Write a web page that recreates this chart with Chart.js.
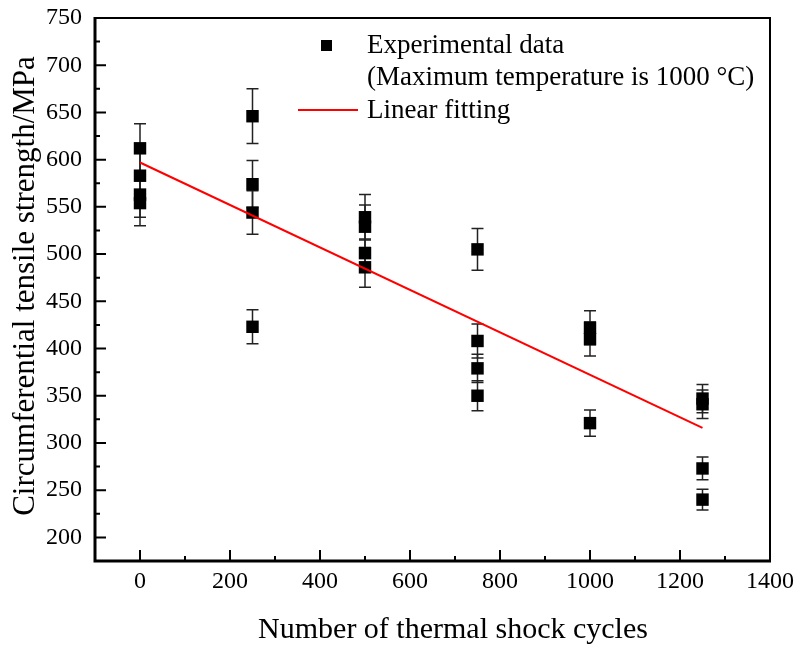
<!DOCTYPE html>
<html>
<head>
<meta charset="utf-8">
<script src="https://cdn.jsdelivr.net/npm/chart.js@4/dist/chart.umd.min.js"></script>
<style>
body{margin:0;background:#fff}
</style>
</head>
<body>
<canvas id="myChart" width="798" height="646"></canvas>
<script>
// data
const cycles = [0,0,0,0, 250,250,250,250, 500,500,500,500, 750,750,750,750, 1000,1000,1000, 1250,1250,1250,1250];
const strength = [612,583,563,554, 646,574,544,423, 539,529,501,486, 505,408,379,350, 422,410,321, 347,341,273,240];
const errors = [26,24,24,24, 29,25,23,18, 24,23,15,21, 22,18,15,16, 18,18,14, 15,15,12,11];
const fitX = [0,1250];
const fitY = [597,316];
const xTicks = [0,200,400,600,800,1000,1200,1400];
const yTicks = [200,250,300,350,400,450,500,550,600,650,700,750];
const xMinor = [100,300,500,700,900,1100,1300];
const yMinor = [225,275,325,375,425,475,525,575,625,675,725];

const serif = "'Liberation Serif', 'Times New Roman', serif";

//error bars under the squares
const errorBars = {
    id:'errorBars',
    beforeDatasetsDraw(chart){
        const ctx = chart.ctx;
        const xs = chart.scales.x, ys = chart.scales.y;
        ctx.save();
        ctx.strokeStyle = '#222';
        ctx.lineWidth = 1.5;
        for(let i=0;i<cycles.length;i++){
            const px = xs.getPixelForValue(cycles[i]);
            const top = ys.getPixelForValue(strength[i]+errors[i]);
            const bot = ys.getPixelForValue(strength[i]-errors[i]);
            ctx.beginPath();
            ctx.moveTo(px,top); ctx.lineTo(px,bot);
            ctx.moveTo(px-6,top); ctx.lineTo(px+6,top);
            ctx.moveTo(px-6,bot); ctx.lineTo(px+6,bot);
            ctx.stroke();
        }
        ctx.restore();
    }
};

// frame, inward ticks, titles, legend
const decorations = {
    id:'decorations',
    afterDraw(chart){
        const ctx = chart.ctx;
        const ca = chart.chartArea;
        const xs = chart.scales.x, ys = chart.scales.y;
        ctx.save();
        ctx.strokeStyle = '#000';
        // top + right thinner
        ctx.lineWidth = 2;
        ctx.beginPath();
        ctx.moveTo(ca.left,ca.top); ctx.lineTo(ca.right,ca.top); ctx.lineTo(ca.right,ca.bottom);
        ctx.stroke();
        ctx.lineWidth = 3;
        ctx.beginPath();
        ctx.moveTo(ca.left,ca.top-1); ctx.lineTo(ca.left,ca.bottom); ctx.lineTo(ca.right+1,ca.bottom);
        ctx.stroke();
        ctx.lineWidth = 2;
        ctx.beginPath();
        xTicks.forEach(v=>{const p=xs.getPixelForValue(v); ctx.moveTo(p,ca.bottom); ctx.lineTo(p,ca.bottom-11);});
        xMinor.forEach(v=>{const p=xs.getPixelForValue(v); ctx.moveTo(p,ca.bottom); ctx.lineTo(p,ca.bottom-5);});
        yTicks.forEach(v=>{const p=ys.getPixelForValue(v); ctx.moveTo(ca.left,p); ctx.lineTo(ca.left+11,p);});
        yMinor.forEach(v=>{const p=ys.getPixelForValue(v); ctx.moveTo(ca.left,p); ctx.lineTo(ca.left+5,p);});
        ctx.stroke();

        // axis titles
        ctx.fillStyle = '#000';
        ctx.font = '30px ' + serif;
        ctx.textAlign = 'center';
        ctx.textBaseline = 'middle';
        ctx.fillText('Number of thermal shock cycles', 453, 630);
        ctx.save();
        ctx.translate(26, 286);
        ctx.rotate(-Math.PI/2);
        ctx.font = '31px ' + serif;
        ctx.fillText('Circumferential tensile strength/MPa', 0, 0);
        ctx.restore();

        // legend
        ctx.font = '27px ' + serif;
        ctx.textAlign = 'left';
        ctx.fillRect(321, 40, 11, 11);
        ctx.fillText('Experimental data', 367, 46);
        ctx.fillText('(Maximum temperature is 1000 \u00B0C)', 367, 78);
        ctx.strokeStyle = '#ff0000';
        ctx.lineWidth = 2;
        ctx.beginPath(); ctx.moveTo(298,110); ctx.lineTo(358,110); ctx.stroke();
        ctx.fillText('Linear fitting', 367, 111);
        ctx.restore();
    }
};

var mychart = document.getElementById('myChart').getContext('2d');
var result = new Chart(mychart,{
    type:'scatter',
    data:{
        datasets:[{
            label:'Experimental data',
            data: cycles.map((c,i)=>({x:c,y:strength[i]})),
            pointStyle:'rect',
            pointRadius:8.8,
            pointBackgroundColor:'#000',
            pointBorderWidth:0,
            order:1
        },{
            label:'Linear fitting',
            type:'line',
            data: fitX.map((c,i)=>({x:c,y:fitY[i]})),
            borderColor:'#ff0000',
            borderWidth:2,
            pointRadius:0,
            fill:false,
            order:0
        }]
    },
    options:{
        responsive:false,
        animation:false,
        layout:{padding:{top:18,right:28,left:0,bottom:0}},
        plugins:{legend:{display:false},tooltip:{enabled:false}},
        scales:{
            x:{
                type:'linear', min:-100, max:1400,
                afterBuildTicks:s=>{s.ticks = xTicks.map(v=>({value:v}));},
                afterFit:s=>{s.height = 85; s.paddingLeft = 0; s.paddingRight = 0;},
                grid:{display:false, drawTicks:false}, border:{display:false},
                ticks:{color:'#000', padding:6, maxRotation:0, callback:v=>String(v), font:{family:serif,size:24}}
            },
            y:{
                min:175, max:750,
                afterBuildTicks:s=>{s.ticks = yTicks.map(v=>({value:v}));},
                afterFit:s=>{s.width = 95; s.paddingTop = 0; s.paddingBottom = 0;},
                grid:{display:false, drawTicks:false}, border:{display:false},
                ticks:{color:'#000', padding:13, callback:v=>String(v), font:{family:serif,size:24}}
            }
        }
    },
    plugins:[errorBars, decorations]
});
</script>
</body>
</html>
